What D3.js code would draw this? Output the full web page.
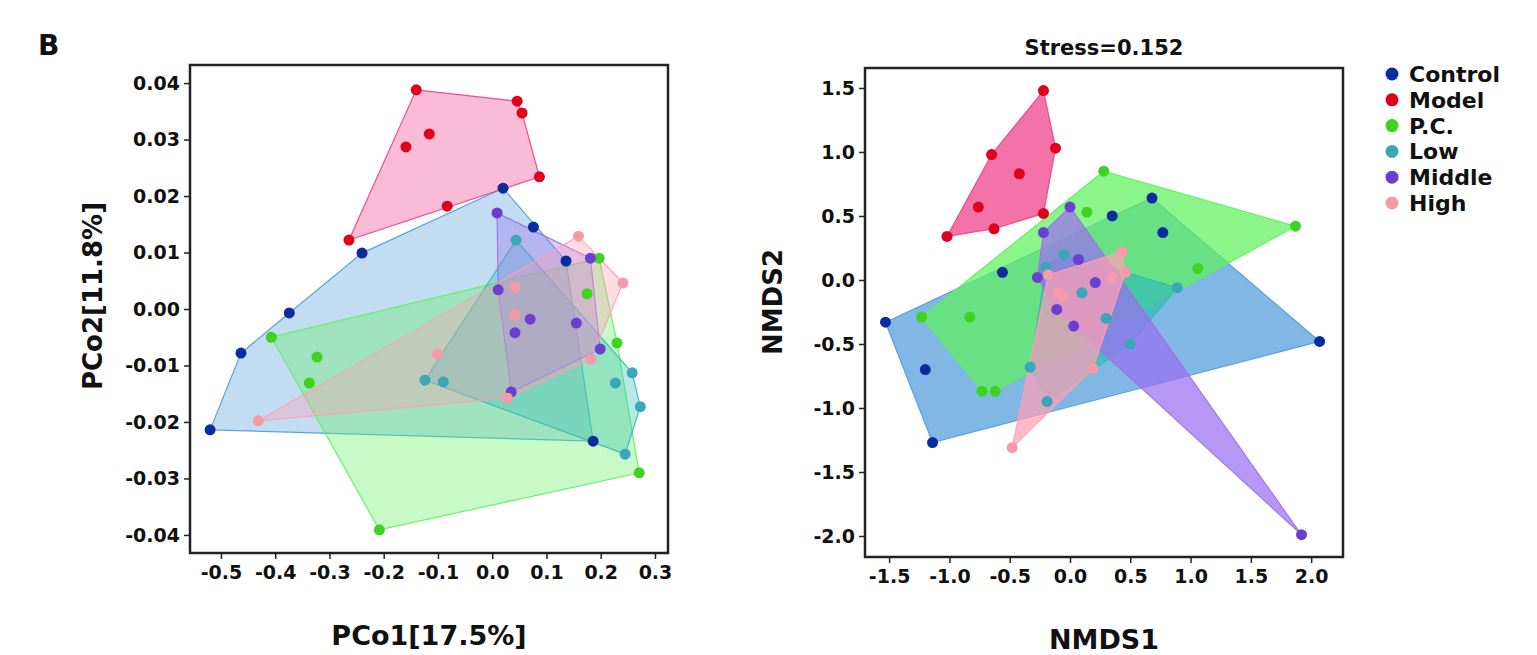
<!DOCTYPE html>
<html>
<head>
<meta charset="utf-8">
<script src="https://cdn.jsdelivr.net/npm/d3@7"></script>
<style>
  body { margin: 0; background: #fff; }
  svg text { font-family: "DejaVu Sans", "Liberation Sans", Arial, sans-serif; font-weight: bold; fill: #111; }
</style>
</head>
<body>
<svg id="chart" width="1537" height="655"></svg>
<script>
// group names and colours
var groups = ["Control", "Model", "P.C.", "Low", "Middle", "High"];
var pointColors = ["#0b2c9e", "#e0001b", "#3fd321", "#3aa6b9", "#6a3fcf", "#f59aa8"];
var fillColors = ["#4f9bd9", "#ee3d86", "#5ef05e", "#35bdb4", "#9a6ff0", "#ff9fb5"];

// PCoA coordinates [PCo1, PCo2]
var pcoaControl = [[0.020, 0.0214], [0.076, 0.0145], [0.136, 0.0085], [0.186, -0.0234], [-0.520, -0.0214], [-0.463, -0.0078], [-0.374, -0.0007], [-0.240, 0.0099]];
var pcoaModel = [[-0.140, 0.0388], [0.046, 0.0368], [0.055, 0.0347], [0.087, 0.0234], [-0.116, 0.0310], [-0.159, 0.0287], [-0.083, 0.0182], [-0.264, 0.0122]];
var pcoaPC = [[-0.407, -0.0050], [-0.323, -0.0085], [-0.337, -0.0131], [-0.208, -0.0391], [0.271, -0.0290], [0.230, -0.0060], [0.175, 0.0027], [0.197, 0.0090]];
var pcoaLow = [[0.044, 0.0122], [-0.124, -0.0126], [-0.090, -0.0129], [0.258, -0.0113], [0.227, -0.0131], [0.273, -0.0173], [0.245, -0.0257]];
var pcoaMiddle = [[0.009, 0.0170], [0.181, 0.0090], [0.011, 0.0034], [0.070, -0.0018], [0.042, -0.0042], [0.155, -0.0025], [0.199, -0.0071], [0.035, -0.0147]];
var pcoaHigh = [[0.159, 0.0129], [0.241, 0.0046], [0.042, 0.0039], [0.042, -0.0011], [-0.101, -0.0080], [0.182, -0.0089], [0.028, -0.0158], [-0.431, -0.0198]];

// NMDS coordinates [NMDS1, NMDS2]
var nmdsControl = [[-1.53, -0.33], [-1.20, -0.70], [-1.14, -1.27], [-0.56, 0.06], [0.35, 0.50], [0.68, 0.64], [0.77, 0.37], [2.07, -0.48]];
var nmdsModel = [[-0.22, 1.48], [-0.12, 1.03], [-0.65, 0.98], [-0.42, 0.83], [-0.76, 0.57], [-0.22, 0.52], [-0.63, 0.40], [-1.02, 0.34]];
var nmdsPC = [[0.28, 0.85], [0.14, 0.53], [1.87, 0.42], [1.06, 0.09], [-1.23, -0.29], [-0.83, -0.29], [-0.73, -0.87], [-0.62, -0.87]];
var nmdsLow = [[-0.33, -0.68], [-0.19, -0.95], [0.89, -0.06], [-0.05, 0.20], [0.10, -0.10], [0.30, -0.30], [-0.20, 0.10], [0.50, -0.50]];
var nmdsMiddle = [[1.92, -1.99], [0.00, 0.57], [-0.22, 0.37], [0.07, 0.16], [-0.27, 0.02], [0.21, -0.02], [0.03, -0.36], [-0.11, -0.23]];
var nmdsHigh = [[-0.18, 0.04], [-0.48, -1.31], [-0.06, -0.13], [0.19, -0.69], [0.43, 0.22], [0.35, 0.02], [0.46, 0.06], [-0.10, -0.10]];

var pcoaData = [pcoaControl, pcoaModel, pcoaPC, pcoaLow, pcoaMiddle, pcoaHigh];
var nmdsData = [nmdsControl, nmdsModel, nmdsPC, nmdsLow, nmdsMiddle, nmdsHigh];

var pcoaXTicks = [-0.5, -0.4, -0.3, -0.2, -0.1, 0.0, 0.1, 0.2, 0.3];
var pcoaYTicks = [-0.04, -0.03, -0.02, -0.01, 0.00, 0.01, 0.02, 0.03, 0.04];
var nmdsXTicks = [-1.5, -1.0, -0.5, 0.0, 0.5, 1.0, 1.5, 2.0];
var nmdsYTicks = [-2.0, -1.5, -1.0, -0.5, 0.0, 0.5, 1.0, 1.5];

var svg = d3.select("#chart");

function fmt(spec) {
    var f = d3.format(spec);
    return d => f(d).replace("\u2212", "-");
}

/* Draw one ordination panel */
function panel(opts) {
    var x = d3.scaleLinear().domain(opts.xDomain).range([opts.left, opts.right]);
    var y = d3.scaleLinear().domain(opts.yDomain).range([opts.bottom, opts.top]);
    var g = svg.append("g");

    // hulls
    opts.data.forEach(function (pts, i) {
        var px = pts.map(d => [x(d[0]), y(d[1])]);
        var hull = d3.polygonHull(px);
        g.append("path")
            .attr("d", "M" + hull.join("L") + "Z")
            .attr("fill", fillColors[i])
            .attr("fill-opacity", opts.alpha)
            .attr("stroke", fillColors[i])
            .attr("stroke-opacity", 0.9)
            .attr("stroke-width", 1.2);
    });

    // points
    opts.data.forEach(function (pts, i) {
        g.selectAll(".pt" + i)
            .data(pts)
            .join("circle")
            .attr("cx", d => x(d[0]))
            .attr("cy", d => y(d[1]))
            .attr("r", 5.5)
            .attr("fill", pointColors[i]);
    });

    // frame
    g.append("rect")
        .attr("x", opts.left).attr("y", opts.top)
        .attr("width", opts.right - opts.left).attr("height", opts.bottom - opts.top)
        .attr("fill", "none").attr("stroke", "#222").attr("stroke-width", 2.5);

    // axes
    var xa = g.append("g").attr("transform", `translate(0,${opts.bottom})`)
        .call(d3.axisBottom(x).tickValues(opts.xTicks).tickFormat(fmt(".1f")).tickSize(6).tickPadding(7));
    var ya = g.append("g").attr("transform", `translate(${opts.left},0)`)
        .call(d3.axisLeft(y).tickValues(opts.yTicks).tickFormat(fmt(opts.yFormat)).tickSize(6).tickPadding(4));
    [xa, ya].forEach(function (a) {
        a.select(".domain").remove();
        a.selectAll("line").attr("stroke", "#222").attr("stroke-width", 1.5);
        a.selectAll("text").style("font-size", "19px").style("font-family", "'DejaVu Sans', sans-serif").attr("fill", "#111");
    });

    g.append("text")
        .attr("x", (opts.left + opts.right) / 2).attr("y", opts.bottom + 92)
        .attr("text-anchor", "middle").style("font-size", "27px")
        .text(opts.xTitle);
    g.append("text")
        .attr("transform", `translate(${opts.yTitleX},${opts.yTitleY}) rotate(-90)`)
        .attr("text-anchor", "middle").style("font-size", "26px")
        .text(opts.yTitle);
}

panel({
    data: pcoaData, left: 190, right: 668, top: 65, bottom: 553,
    xDomain: [-0.557, 0.324], yDomain: [-0.0432, 0.0432],
    xTicks: pcoaXTicks, yTicks: pcoaYTicks, yFormat: ".2f",
    xTitle: "PCo1[17.5%]", yTitle: "PCo2[11.8%]", yTitleX: 102, yTitleY: 296, alpha: 0.35
});

panel({
    data: nmdsData, left: 865, right: 1343, top: 68, bottom: 557,
    xDomain: [-1.70, 2.264], yDomain: [-2.164, 1.656],
    xTicks: nmdsXTicks, yTicks: nmdsYTicks, yFormat: ".1f",
    xTitle: "NMDS1", yTitle: "NMDS2", yTitleX: 782, yTitleY: 302, alpha: 0.72
});

// panel letter and title
svg.append("text").attr("x", 38).attr("y", 55).style("font-size", "28px").text("B");
svg.append("text").attr("x", 1104).attr("y", 55).attr("text-anchor", "middle")
    .style("font-size", "21px").text("Stress=0.152");

// legend
var legend = svg.append("g").selectAll("g")
    .data(groups)
    .join("g")
    .attr("transform", (d, i) => `translate(1392,${74 + i * 25.8})`);
legend.append("circle").attr("r", 6.5).attr("fill", (d, i) => pointColors[i]);
legend.append("text").attr("x", 17).attr("dy", "0.36em").style("font-size", "22px").text(d => d);
</script>
</body>
</html>
